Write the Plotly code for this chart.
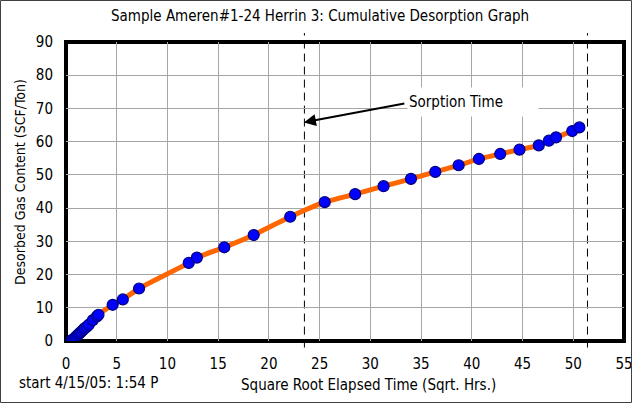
import plotly.graph_objects as go

# Cumulative desorption readings: square-root elapsed time vs desorbed gas
sqrt_hours = [0.5, 0.67, 0.84, 1.0, 1.16, 1.33, 1.5, 1.67, 1.83, 2.05, 2.25, 2.65,
              3.05, 3.2, 4.6, 5.6, 7.2, 12.1, 12.9, 15.6, 18.5, 22.1, 25.5, 28.5,
              31.3, 34.0, 36.4, 38.7, 40.7, 42.8, 44.7, 46.6, 47.6, 48.3, 49.9, 50.6]
gas_content = [0.1, 0.4, 0.8, 1.3, 1.8, 2.3, 2.8, 3.3, 3.8, 4.3, 4.9, 6.3,
               7.4, 7.9, 10.9, 12.5, 15.8, 23.5, 25.1, 28.2, 31.9, 37.4, 41.8, 44.2,
               46.6, 48.8, 50.9, 52.9, 54.8, 56.3, 57.6, 58.9, 60.3, 61.3, 63.2, 64.3]

sorption_time = 23.5      # sqrt hrs
total_time = 51.4         # sqrt hrs

title_text = "Sample Ameren#1-24 Herrin 3: Cumulative Desorption Graph"
x_title = "Square Root Elapsed Time (Sqrt. Hrs.)"
y_title = "Desorbed Gas Content (SCF/Ton)"
start_text = "start 4/15/05: 1:54 P"

FONT = "DejaVu Sans Condensed, DejaVu Sans, sans-serif"
FS = 15

W, H = 632, 403
L, R, T, B = 66, 8, 42, 62
PW, PH = W - L - R, H - T - B


def px_x(px):
    return (px - L) / PW


def px_y(py):
    return (T + PH - py) / PH


fig = go.Figure()
fig.add_trace(go.Scatter(
    x=sqrt_hours, y=gas_content, mode="lines+markers",
    line=dict(color="#FF6600", width=5, shape="spline", smoothing=0.5),
    marker=dict(size=11, color="#0000FF", line=dict(color="#000080", width=1.2)),
    hoverinfo="skip", showlegend=False,
))

shapes = []
# vertical dashed time markers, extending slightly past the frame
for xv in (sorption_time, total_time):
    shapes.append(dict(type="line", xref="x", yref="paper", x0=xv, x1=xv,
                       y0=-0.022, y1=1.03, layer="between",
                       line=dict(color="black", width=1, dash="8px,5px")))
# heavy plot frame
shapes.append(dict(type="rect", xref="paper", yref="paper", x0=0, x1=1, y0=0, y1=1,
                   layer="between", line=dict(color="black", width=4)))
# thin outer border of the chart
shapes.append(dict(type="rect", xref="paper", yref="paper",
                   x0=px_x(0.5), x1=px_x(W - 0.5), y0=px_y(H - 0.5), y1=px_y(0.5),
                   layer="above", line=dict(color="#404040", width=1)))

txt = dict(family=FONT, size=FS, color="black")
annotations = [
    dict(text=title_text, xref="paper", yref="paper", x=px_x(320), y=px_y(16),
         xanchor="center", yanchor="middle", showarrow=False, font=txt),
    dict(text=x_title, xref="paper", yref="paper", x=px_x(368), y=px_y(385),
         xanchor="center", yanchor="middle", showarrow=False, font=txt),
    dict(text=y_title, xref="paper", yref="paper", textangle=-90,
         x=px_x(20), y=px_y(182), xanchor="center", yanchor="middle",
         showarrow=False, font=dict(family=FONT, size=14, color="black")),
    dict(text=start_text, xref="paper", yref="paper", x=px_x(17), y=px_y(383),
         xanchor="left", yanchor="middle", showarrow=False, font=txt),
    # arrow pointing at the sorption-time line
    dict(text="", x=sorption_time - 0.05, y=65.8, xref="x", yref="y",
         ax=33.5, ay=71.6, axref="x", ayref="y", showarrow=True,
         arrowhead=2, arrowsize=1.2, arrowwidth=2, arrowcolor="black"),
    dict(text="Sorption Time", x=33.6, y=71.9, xref="x", yref="y",
         xanchor="left", yanchor="middle", showarrow=False, align="left",
         width=128, height=26, bgcolor="white", font=txt),
]

axis_common = dict(showgrid=True, gridcolor="#A6A6A6", gridwidth=1, zeroline=False,
                   showline=False, ticks="", tickfont=txt, ticklabeloverflow="allow",
                   automargin=False)

fig.update_layout(
    width=W, height=H, margin=dict(l=L, r=R, t=T, b=B, autoexpand=False),
    paper_bgcolor="white", plot_bgcolor="white",
    shapes=shapes, annotations=annotations,
    xaxis=dict(range=[0, 55], dtick=5, tick0=0, ticklabelstandoff=12, **axis_common),
    yaxis=dict(range=[0, 90], dtick=10, tick0=0, ticklabelstandoff=12, **axis_common),
)

fig.write_html("out.html")
